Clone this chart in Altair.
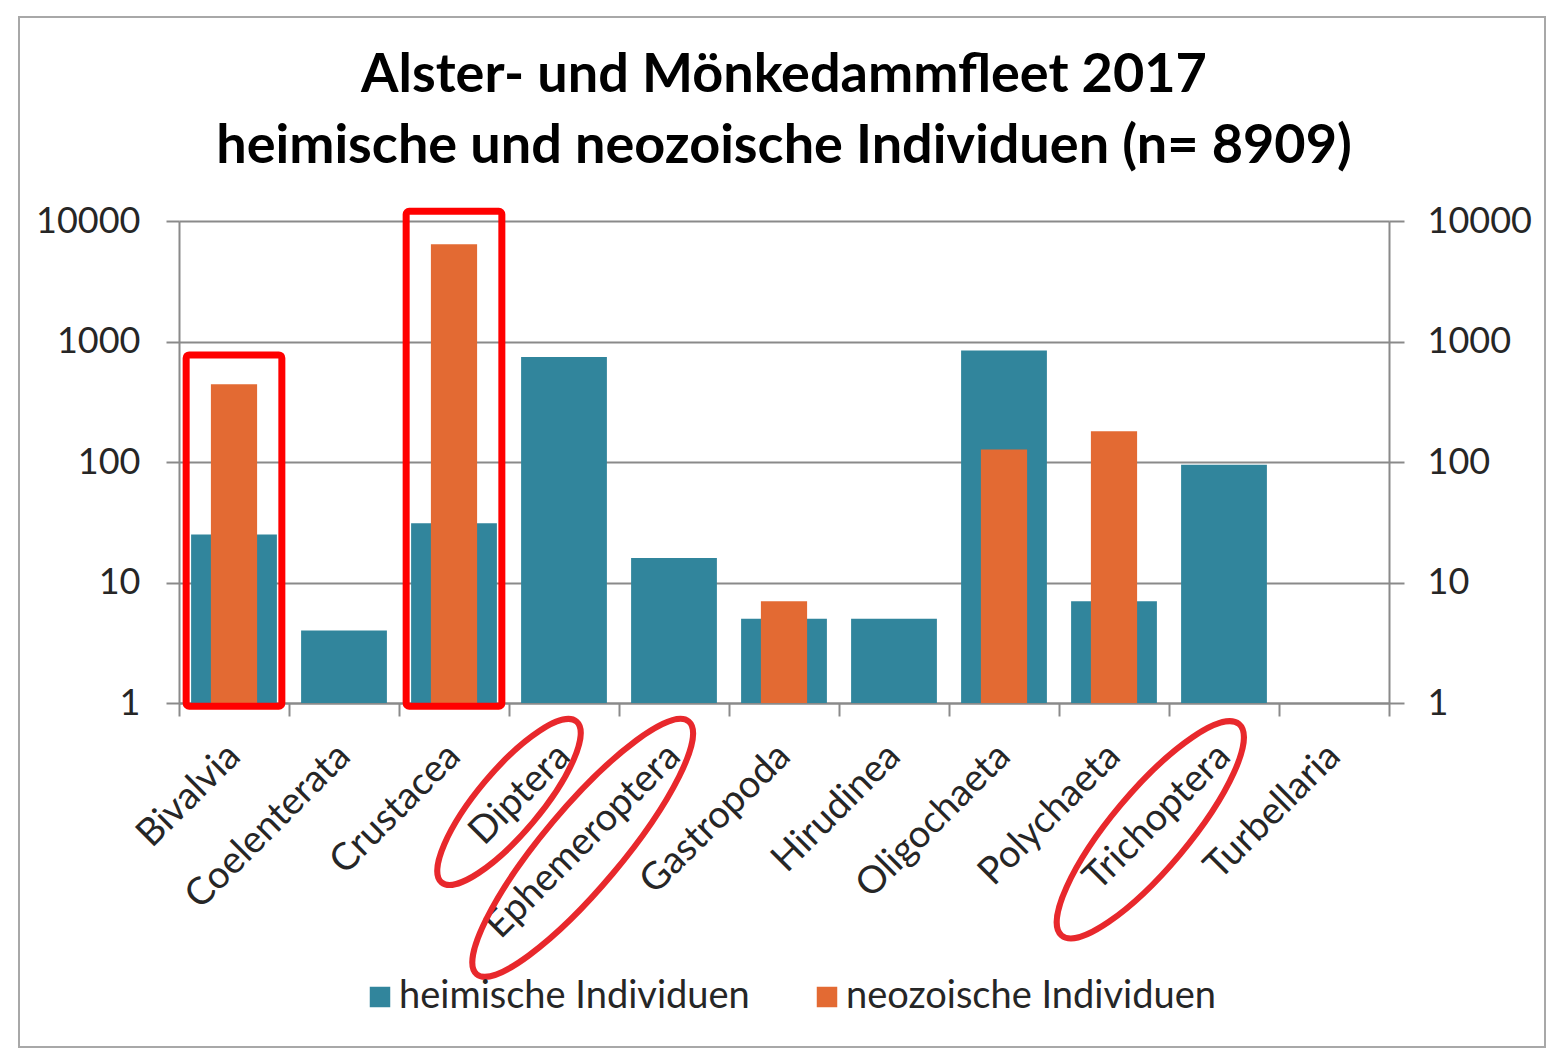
import altair as alt
import pandas as pd

# ---------------- data ----------------
categories = ["Bivalvia", "Coelenterata", "Crustacea", "Diptera", "Ephemeroptera",
              "Gastropoda", "Hirudinea", "Oligochaeta", "Polychaeta", "Trichoptera",
              "Turbellaria"]
heimisch = [25, 4, 31, 744, 16, 5, 5, 841, 7, 95, 1]
neozoisch = [441, None, 6400, None, None, 7, None, 127, 180, None, None]
series_names = ["heimische Individuen", "neozoische Individuen"]
series_colors = ["#31859C", "#E36A33"]
y_ticks = [1, 10, 100, 1000, 10000]
title_lines = ["Alster- und Mönkedammfleet 2017",
               "heimische und neozoische Individuen (n= 8909)"]

# red highlight boxes (hand-drawn annotations)
box_categories = ["Bivalvia", "Crustacea"]
box_top = [774, 12050]
box_bottom = [0.94, 0.94]

# red ellipses round some category labels (x in band units, y in data units)
ellipse_labels = ["Diptera", "Ephemeroptera", "Trichoptera"]
ellipse_x = [3.00, 3.67, 8.83]
ellipse_y = [0.151, 0.0628, 0.0887]
ellipse_len = [210, 330, 276]
ellipse_ratio = [0.30, 0.24, 0.28]

# ---------------- tables ----------------
df_h = pd.DataFrame({"cat": categories, "value": heimisch, "series": series_names[0]})
df_n = pd.DataFrame({"cat": categories, "value": neozoisch, "series": series_names[1]}).dropna()
df_box = pd.DataFrame({"cat": box_categories, "top": box_top, "bottom": box_bottom})


def ellipse_path(r):
    k = 0.5523
    return (f"M-1,0C-1,{-k*r:.4f},{-k:.4f},{-r:.4f},0,{-r:.4f}"
            f"C{k:.4f},{-r:.4f},1,{-k*r:.4f},1,0"
            f"C1,{k*r:.4f},{k:.4f},{r:.4f},0,{r:.4f}"
            f"C{-k:.4f},{r:.4f},-1,{k*r:.4f},-1,0Z")


df_ell = pd.DataFrame({
    "label": ellipse_labels,
    "bx": ellipse_x,
    "by": ellipse_y,
    "path": [ellipse_path(r) for r in ellipse_ratio],
    "size": [L * L for L in ellipse_len],
})

FONT = "Lato"
GREY = "#8a8a8a"
TXT = "#262626"

W, H = 1210, 482

yscale = alt.Scale(type="log", domain=[1, 10000], nice=False)
xscale = alt.Scale(domain=categories, paddingInner=0, paddingOuter=0)

x_axis = alt.Axis(title=None, labelAngle=-45, labelAlign="right", labelBaseline="middle",
                  labelFontSize=38, labelFont=FONT, labelColor=TXT, labelPadding=34,
                  labelOverlap=False, labelLimit=0, tickBand="extent", tickSize=13,
                  tickWidth=2, tickColor=GREY, domainColor=GREY, domainWidth=2,
                  grid=False)
y_left = alt.Axis(title=None, orient="left", values=y_ticks, format="d", grid=True,
                  gridColor=GREY, gridWidth=2, domainColor=GREY, domainWidth=2,
                  tickSize=13, tickWidth=2, tickColor=GREY, labelFontSize=36,
                  labelFont=FONT, labelColor=TXT, labelPadding=26, labelOverlap=False)
y_right = alt.Axis(title=None, orient="right", values=y_ticks, format="d", grid=False,
                   domainColor=GREY, domainWidth=2, tickSize=15, tickWidth=2,
                   tickColor=GREY, labelFontSize=36, labelFont=FONT, labelColor=TXT,
                   labelPadding=23, labelOverlap=False)

legend = alt.Legend(orient="none", legendX=182, legendY=757, direction="horizontal",
                    title=None, symbolType="square", symbolSize=420,
                    symbolStrokeWidth=0, symbolOpacity=1, labelFontSize=38,
                    labelFont=FONT, labelColor=TXT, labelOffset=0, columnPadding=58,
                    padding=0, labelLimit=600)
color = alt.Color("series:N", scale=alt.Scale(domain=series_names, range=series_colors),
                  legend=legend)

frame = alt.Chart(pd.DataFrame({"f": [0]})).mark_rect(
    fillOpacity=0, stroke="#a8a8a8", strokeWidth=2
).encode(x=alt.value(-160), x2=alt.value(1366), y=alt.value(-204), y2=alt.value(826))

bars_h = alt.Chart(df_h).mark_bar(width=alt.RelativeBandSize(0.78)).encode(
    x=alt.X("cat:N", scale=xscale, sort=categories, axis=x_axis),
    y=alt.Y("value:Q", scale=yscale, axis=y_left, stack=None),
    color=color,
)

bars_n = alt.Chart(df_n).mark_bar(width=alt.RelativeBandSize(0.42)).encode(
    x=alt.X("cat:N", scale=xscale, sort=categories, axis=None),
    y=alt.Y("value:Q", scale=yscale, axis=y_right, stack=None),
    color=color,
)

boxes = alt.Chart(df_box).mark_bar(
    width=alt.RelativeBandSize(0.87), fillOpacity=0, stroke="#FF0000",
    strokeWidth=7, cornerRadius=3
).encode(
    x=alt.X("cat:N", scale=xscale, sort=categories, axis=None),
    y=alt.Y("top:Q", scale=yscale, axis=None),
    y2="bottom:Q",
)

ellipses = alt.Chart(df_ell).mark_point(
    filled=False, stroke="#E8282C", strokeWidth=6, angle=310, opacity=1
).encode(
    x=alt.X("bx:Q", scale=alt.Scale(domain=[0, 11], nice=False, zero=False), axis=None),
    y=alt.Y("by:Q", scale=yscale, axis=None),
    shape=alt.Shape("path:N", scale=None, legend=None),
    size=alt.Size("size:Q", scale=None, legend=None),
)

chart = alt.layer(frame, bars_h, bars_n, boxes, ellipses).resolve_scale(
    x="independent"
).resolve_axis(y="independent").properties(
    width=W, height=H,
    padding={"left": 10, "top": 8, "right": 0, "bottom": 4},
    background="white",
    title=alt.TitleParams(text=title_lines, fontSize=54, font=FONT, fontWeight="bold",
                          lineHeight=71, baseline="alphabetic", offset=-201,
                          anchor="middle", color="black"),
).configure_view(stroke=None)

chart.save("out.html", embed_options={"renderer": "svg", "actions": False})
